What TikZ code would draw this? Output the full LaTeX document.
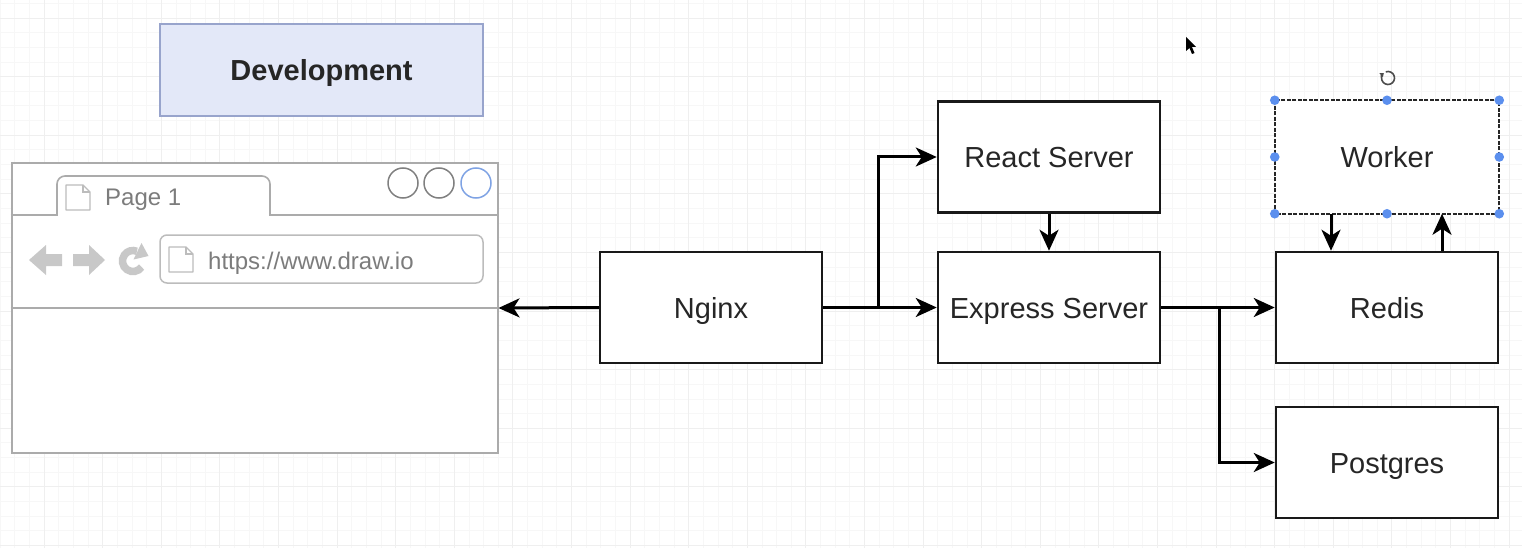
\documentclass[tikz,border=0pt]{standalone}
\usepackage{fontspec}
\setmainfont{Liberation Sans}
\usetikzlibrary{arrows.meta}
\definecolor{devfill}{HTML}{E3E8F8}
\definecolor{devdraw}{HTML}{98A4CC}
\definecolor{brgray}{HTML}{ABABAB}
\definecolor{navgray}{HTML}{C8C8C8}
\definecolor{txtgray}{HTML}{7C7C7C}
\definecolor{selblue}{HTML}{5B8FEE}
\definecolor{circblue}{HTML}{7FA3E4}
\definecolor{gridminor}{HTML}{F7F7F7}
\definecolor{gridmajor}{HTML}{EFEFEF}
\newcommand\mypageicon[2]{%
  \draw[brgray!80,line width=1.3pt,line join=round] (#1,#2) -- ++(17,0) -- ++(7,7) -- ++(0,18) -- ++(-24,0) -- cycle;
  \draw[brgray!80,line width=1.1pt] ({#1+17},#2) -- ++(0,7) -- ++(7,0);}
\begin{document}
\begin{tikzpicture}[x=1pt,y=-1pt,
  box/.style={draw=black!90,line width=2.5pt,fill=white,minimum width=222pt,minimum height=111pt,
    font=\fontsize{29}{34}\selectfont,text=black!85,inner sep=0pt,text height=21pt,text depth=0pt},
  arr/.style={line width=3pt,draw=black,-{Stealth[length=21pt,width=19pt,inset=6pt]}}]
\useasboundingbox (0,0) rectangle (1522,548);
\fill[white] (0,0) rectangle (1522,548);
% grid
\foreach \i in {0,...,104} {\draw[gridminor,line width=0.8pt] ({0.1+14.65*\i},0) -- ++(0,548);}
\foreach \i in {0,...,38} {\draw[gridminor,line width=0.8pt] (0,{3.35+14.65*\i}) -- ++(1522,0);}
\foreach \i in {0,...,26} {\draw[gridmajor,line width=0.9pt] ({44+58.6*(\i-1)},0) -- ++(0,548);}
\foreach \i in {0,...,10} {\draw[gridmajor,line width=0.9pt] (0,{18+58.6*\i}) -- ++(1522,0);}

% Development label
\node[draw=devdraw,fill=devfill,line width=2pt,minimum width=323pt,minimum height=92pt,
  font=\bfseries\fontsize{29}{34}\selectfont,text=black!85,inner sep=0pt,text height=21pt,text depth=0pt] (dev) at (321.5,70.5) {Development};

% Browser mockup
\node[draw=brgray,line width=2pt,fill=white,minimum width=486pt,minimum height=290pt,inner sep=0pt] (browser) at (254.5,308) {};
\draw[brgray,line width=1.6pt] (browser.west |- 0,215) -- (57,215);
\draw[brgray,line width=1.6pt] (270,215) -- (browser.east |- 0,215);
\draw[brgray,line width=1.6pt,fill=white,rounded corners=8pt] (57,215.8) -- (57,176) -- (270,176) -- (270,215.8);
\mypageicon{66}{185}
\node[anchor=base west,font=\fontsize{24}{28}\selectfont,text=txtgray,inner sep=0pt] (tabtext) at (105,205.5) {Page 1};
\draw[black!50,line width=1.5pt] (403,183) circle[radius=15];
\draw[black!50,line width=1.5pt] (439,183) circle[radius=15];
\draw[circblue,line width=1.5pt] (476,183) circle[radius=15];
% nav icons
\fill[navgray] (29,260) -- (46,245) -- (46,254) -- (62,254) -- (62,266) -- (46,266) -- (46,275) -- cycle;
\fill[navgray] (73,254) -- (89,254) -- (89,245) -- (105,260) -- (89,275) -- (89,266) -- (73,266) -- cycle;
\draw[navgray,line width=7.5pt] (133,261) ++(35:10.5) arc[start angle=35,end angle=292,radius=10.5];
\fill[navgray] (148.5,256) -- (141.5,243) -- (133.5,259.5) -- cycle;
\draw[brgray!80,line width=1.5pt,rounded corners=7pt] (160,235) rectangle (483,283);
\mypageicon{169}{247}
\node[anchor=base west,font=\fontsize{24}{28}\selectfont,text=txtgray,inner sep=0pt] (url) at (208,269) {https://www.draw.io};
\draw[brgray,line width=1.6pt] (browser.west |- 0,308) -- (browser.east |- 0,308);

% Boxes
\node[box] (nginx) at (711,307.5) {Nginx};
\node[box] (react) at (1049,157) {React Server};
\node[box] (express) at (1049,307.5) {Express Server};
\node[box] (redis) at (1387,307.5) {Redis};
\node[box] (postgres) at (1387,462.5) {Postgres};
\node[box,draw=none] (worker) at (1387,157) {Worker};
\draw[black!85,line width=2.2pt,dash pattern=on 4pt off 1.5pt] (worker.north west) rectangle (worker.south east);

% Connectors
\coordinate (j1) at (878,307.5);
\coordinate (j2) at (1219,307.5);
\draw[arr] (nginx.west) -- (browser.east);
\draw[arr] (nginx.east) -- (express.west);
\draw[arr] (j1) |- (react.west);
\draw[arr] (react.south) -- (express.north);
\draw[arr] (express.east) -- (redis.west);
\draw[arr] (j2) |- (postgres.west);
\draw[arr] ([xshift=-56pt]worker.south) -- ([xshift=-56pt]redis.north);
\draw[arr] ([xshift=55pt]redis.north) -- ([xshift=55pt]worker.south);

% selection handles
\foreach \a in {north west,north,north east,west,east,south west,south,south east}
  {\fill[selblue] (worker.\a) circle[radius=4.8];}
% rotate handle
\draw[black!70,line width=1.6pt,-{Triangle[length=3.5pt,width=5pt]}] (1388,78) ++(-110:6.5) arc[start angle=-110,end angle=230,radius=6.5];
% mouse cursor
\fill[black] (1186,37) -- (1186,51) -- (1189.5,48) -- (1192,54) -- (1194.5,53) -- (1192,47) -- (1196,47) -- cycle;
\end{tikzpicture}
\end{document}
